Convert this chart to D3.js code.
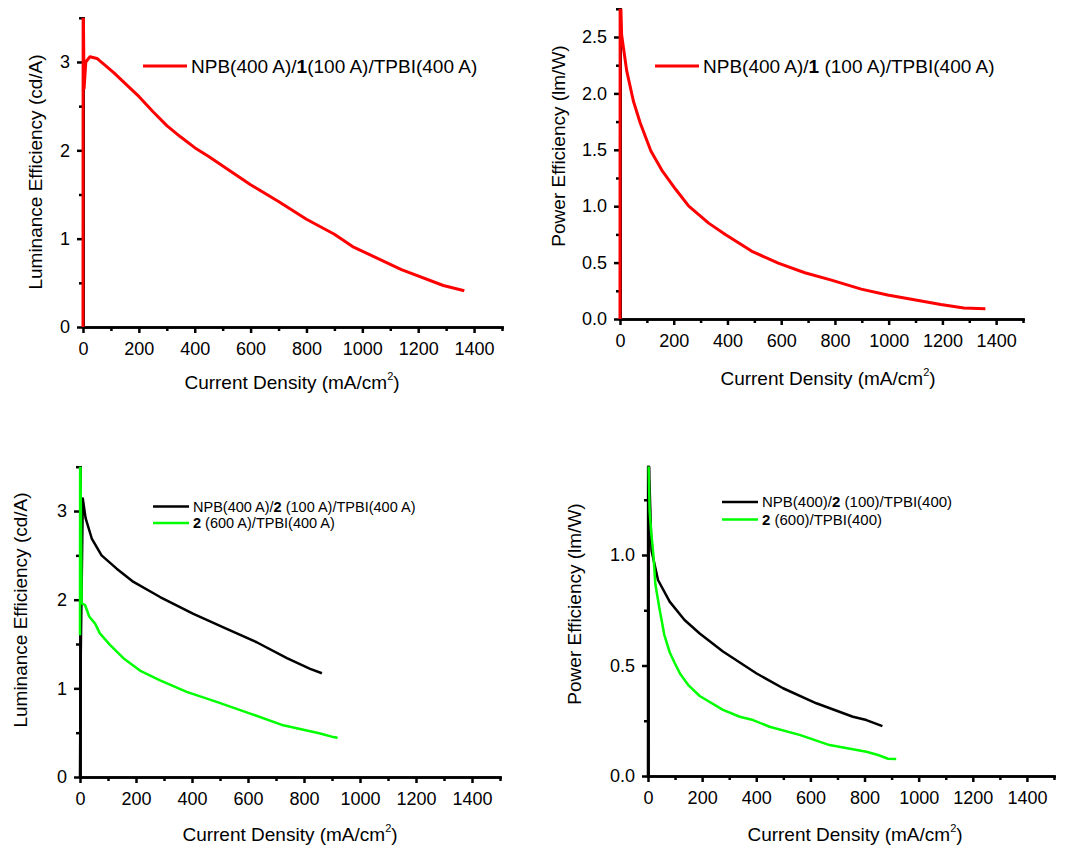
<!DOCTYPE html>
<html lang="en">
<head>
<meta charset="UTF-8">
<title>Luminance and power efficiency vs current density</title>
<script src="https://d3js.org/d3.v7.min.js"></script>
<style>
  body { margin: 0; background: #fff; }
  svg { display: block; font-family: "Liberation Sans", Arial, sans-serif; }
  .axis path, .axis line { stroke: #000; stroke-width: 2.5; }
  .axis path { stroke-linecap: square; }
  .axis text { font-size: 18px; fill: #000; font-family: "Liberation Sans", Arial, sans-serif; }
  .title { font-size: 19px; fill: #000; }
</style>
</head>
<body>
<svg id="chart" width="1070" height="847"></svg>
<script>
// ---- values ----
const xMajorTicks = [0, 200, 400, 600, 800, 1000, 1200, 1400];
const xMinorTicks = [100, 300, 500, 700, 900, 1100, 1300, 1500];
const leMajorTicks = [0, 1, 2, 3];
const leMinorTicks = [0.5, 1.5, 2.5, 3.5];
const pe1MajorTicks = [0, 0.5, 1.0, 1.5, 2.0, 2.5];
const pe1MinorTicks = [0.25, 0.75, 1.25, 1.75, 2.25, 2.75];
const pe2MajorTicks = [0, 0.5, 1.0];
const pe2MinorTicks = [0.25, 0.75, 1.25];

// device 1: luminance efficiency (cd/A)
const le1X = [0, 0.5, 4, 10, 25, 50, 110, 160, 200, 250, 300, 350, 400, 450, 600, 700, 800, 900, 965, 1140, 1290, 1365];
const le1Y = [0, 3.8, 2.7, 3.0, 3.06, 3.04, 2.88, 2.73, 2.61, 2.44, 2.28, 2.15, 2.03, 1.93, 1.61, 1.42, 1.22, 1.05, 0.91, 0.65, 0.47, 0.41];

// device 1: power efficiency (lm/W)
const pe1X = [0, 0.5, 6, 25, 50, 75, 115, 158, 207, 256, 330, 392, 491, 589, 688, 787, 898, 996, 1095, 1194, 1280, 1360];
const pe1Y = [0, 3.0, 2.52, 2.2, 1.93, 1.74, 1.49, 1.31, 1.15, 1.0, 0.85, 0.75, 0.60, 0.495, 0.41, 0.345, 0.265, 0.212, 0.17, 0.128, 0.097, 0.09];

// device 2 (with NPB): luminance efficiency
const le2aX = [0, 2, 10, 20, 42, 77, 131, 191, 286, 405, 524, 631, 739, 822, 864];
const le2aY = [0, 1.2, 3.14, 2.92, 2.69, 2.50, 2.35, 2.20, 2.03, 1.84, 1.67, 1.52, 1.34, 1.22, 1.17];
// device 2 (no NPB): luminance efficiency
const le2bX = [0, 0.5, 6, 18, 33, 54, 71, 107, 155, 214, 286, 381, 488, 608, 726, 858, 905, 920];
const le2bY = [1.6, 4.0, 1.96, 1.94, 1.81, 1.73, 1.62, 1.49, 1.34, 1.20, 1.09, 0.96, 0.847, 0.715, 0.583, 0.49, 0.45, 0.444];

// device 2 (with NPB): power efficiency
const pe2aX = [0, 0.5, 5, 13, 37, 80, 135, 191, 277, 400, 499, 622, 757, 807, 866];
const pe2aY = [0, 1.8, 1.35, 1.02, 0.887, 0.789, 0.706, 0.645, 0.563, 0.465, 0.397, 0.329, 0.268, 0.253, 0.226];
// device 2 (no NPB): power efficiency
const pe2bX = [0.5, 6, 12, 20, 27, 42, 60, 80, 99, 120, 150, 191, 277, 339, 388, 449, 560, 671, 807, 850, 887, 917];
const pe2bY = [1.5, 1.2, 1.1, 1.0, 0.87, 0.76, 0.64, 0.56, 0.51, 0.46, 0.41, 0.362, 0.299, 0.268, 0.253, 0.223, 0.186, 0.14, 0.11, 0.095, 0.078, 0.077];

const zip = (xs, ys) => xs.map((v, i) => [v, ys[i]]);

const svg = d3.select("#chart");
let clipId = 0;

function xTitle(g, cx, by) {
    const t = g.append("text").attr("class", "title")
        .attr("x", cx).attr("y", by).attr("text-anchor", "middle");
    t.append("tspan").text("Current Density (mA/cm");
    t.append("tspan").attr("font-size", 11).attr("dy", -9).text("2");
    t.append("tspan").attr("dy", 9).text(")");
}

function drawPanel(p) {
    const g = svg.append("g");
    const x = d3.scaleLinear().domain([0, 1500]).range(p.xr);
    const y = d3.scaleLinear().domain([0, p.ymax]).range(p.yr);

    // minor ticks
    g.append("g").attr("class", "axis")
        .attr("transform", `translate(0,${p.yr[0]})`)
        .call(d3.axisBottom(x).tickValues(xMinorTicks).tickSize(4).tickSizeOuter(0).tickFormat(""));
    g.append("g").attr("class", "axis")
        .attr("transform", `translate(${p.xr[0]},0)`)
        .call(d3.axisLeft(y).tickValues(p.yMinor).tickSize(4).tickSizeOuter(0).tickFormat(""));

    // major ticks + labels
    g.append("g").attr("class", "axis")
        .attr("transform", `translate(0,${p.yr[0]})`)
        .call(d3.axisBottom(x).tickValues(xMajorTicks).tickSize(6).tickSizeOuter(0)
            .tickPadding(9).tickFormat(d3.format("d")));
    g.append("g").attr("class", "axis")
        .attr("transform", `translate(${p.xr[0]},0)`)
        .call(d3.axisLeft(y).tickValues(p.yMajor).tickSize(6).tickSizeOuter(0)
            .tickPadding(7).tickFormat(d3.format(p.yFmt)));

    // curves, clipped to the plot frame
    const id = "clip" + (clipId++);
    g.append("clipPath").attr("id", id).append("rect")
        .attr("x", p.xr[0] - 3).attr("y", p.yr[1])
        .attr("width", p.xr[1] - p.xr[0] + 3).attr("height", p.yr[0] - p.yr[1] + 1);
    const line = d3.line().x(d => x(d[0])).y(d => y(d[1]));
    const lg = g.append("g").attr("clip-path", `url(#${id})`);
    p.series.forEach(s => {
        lg.append("path").datum(s.data)
            .attr("fill", "none").attr("stroke", s.color)
            .attr("stroke-width", s.width).attr("stroke-linejoin", "round")
            .attr("d", line);
    });

    // legend
    p.series.forEach((s, i) => {
        const ly = p.legend.y + i * p.legend.dy;
        g.append("line")
            .attr("x1", p.legend.x).attr("x2", p.legend.x + p.legend.len)
            .attr("y1", ly).attr("y2", ly)
            .attr("stroke", s.color).attr("stroke-width", s.width);
        const t = g.append("text")
            .attr("x", p.legend.x + p.legend.len + 4)
            .attr("y", ly + p.legend.size * 0.36)
            .attr("font-size", p.legend.size);
        s.label.forEach(part => {
            t.append("tspan").attr("font-weight", part.b ? "bold" : null).text(part.t);
        });
    });

    // titles
    xTitle(g, p.xt[0], p.xt[1]);
    g.append("text").attr("class", "title")
        .attr("text-anchor", "middle")
        .attr("transform", `translate(${p.yt[0]},${p.yt[1]}) rotate(-90)`)
        .text(p.yLabel);
}

const legend1 = [{ t: "NPB(400 A)/" }, { t: "1", b: true }, { t: "(100 A)/TPBI(400 A)" }];
const legend1b = [{ t: "NPB(400 A)/" }, { t: "1", b: true }, { t: " (100 A)/TPBI(400 A)" }];
const legend2a = [{ t: "NPB(400 A)/" }, { t: "2", b: true }, { t: " (100 A)/TPBI(400 A)" }];
const legend2b = [{ t: "2", b: true }, { t: " (600 A)/TPBI(400 A)" }];
const legend3a = [{ t: "NPB(400)/" }, { t: "2", b: true }, { t: " (100)/TPBI(400)" }];
const legend3b = [{ t: "2", b: true }, { t: " (600)/TPBI(400)" }];

drawPanel({
    xr: [83, 502], yr: [327, 17.8], ymax: 3.5,
    yMajor: leMajorTicks, yMinor: leMinorTicks, yFmt: "d",
    yLabel: "Luminance Efficiency (cd/A)", yt: [42, 172], xt: [292, 389],
    legend: { x: 143, y: 66, dy: 0, len: 44, size: 19 },
    series: [{ data: zip(le1X, le1Y), color: "#ff0000", width: 3, label: legend1 }]
});

drawPanel({
    xr: [620, 1023], yr: [319, 8.8], ymax: 2.75,
    yMajor: pe1MajorTicks, yMinor: pe1MinorTicks, yFmt: ".1f",
    yLabel: "Power Efficiency (lm/W)", yt: [565, 146], xt: [828, 385],
    legend: { x: 655, y: 66, dy: 0, len: 44, size: 19 },
    series: [{ data: zip(pe1X, pe1Y), color: "#ff0000", width: 3, label: legend1b }]
});

drawPanel({
    xr: [80, 500], yr: [777, 466.7], ymax: 3.5,
    yMajor: leMajorTicks, yMinor: leMinorTicks, yFmt: "d",
    yLabel: "Luminance Efficiency (cd/A)", yt: [27, 610], xt: [290, 841],
    legend: { x: 153, y: 506.5, dy: 16.5, len: 36, size: 14.5 },
    series: [
        { data: zip(le2aX, le2aY), color: "#000000", width: 2.5, label: legend2a },
        { data: zip(le2bX, le2bY), color: "#00ff00", width: 2.5, label: legend2b }
    ]
});

drawPanel({
    xr: [648, 1054], yr: [776, 466.6], ymax: 1.4,
    yMajor: pe2MajorTicks, yMinor: pe2MinorTicks, yFmt: ".1f",
    yLabel: "Power Efficiency (lm/W)", yt: [581, 604], xt: [855, 841],
    legend: { x: 722, y: 502, dy: 17.5, len: 36, size: 15 },
    series: [
        { data: zip(pe2aX, pe2aY), color: "#000000", width: 2.5, label: legend3a },
        { data: zip(pe2bX, pe2bY), color: "#00ff00", width: 2.5, label: legend3b }
    ]
});
</script>
</body>
</html>
